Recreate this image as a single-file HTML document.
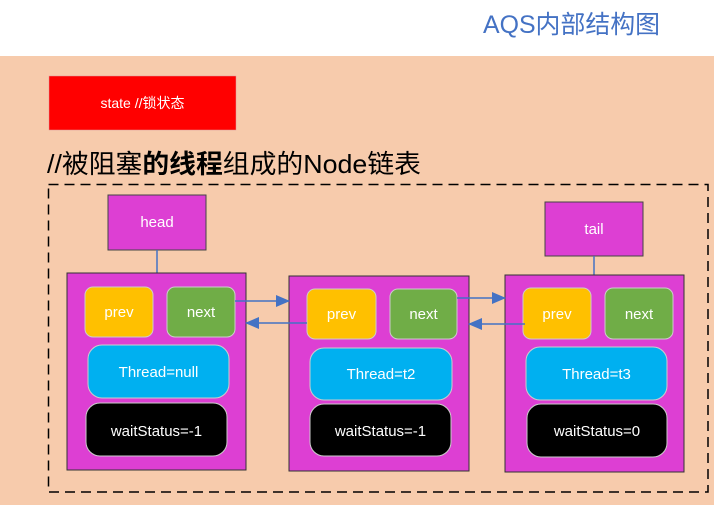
<!DOCTYPE html>
<html><head><meta charset="utf-8"><style>
html,body{margin:0;padding:0;width:716px;height:505px;overflow:hidden;background:#fff}
text{font-family:"Liberation Sans","Noto Sans CJK SC",sans-serif}
</style></head><body>
<svg width="716" height="505" viewBox="0 0 716 505" xmlns="http://www.w3.org/2000/svg">
<defs>
<marker id="ah" markerWidth="14" markerHeight="12" refX="13" refY="6" orient="auto" markerUnits="userSpaceOnUse">
<path d="M0,0 L14,6 L0,12 z" fill="#4472C4"/></marker>
</defs>
<rect x="0" y="56" width="714" height="449" fill="#F7CBAC"/>
<text x="483" y="33" font-size="25" fill="#4472C4" textLength="177" lengthAdjust="spacingAndGlyphs">AQS内部结构图</text>
<rect x="49" y="76" width="187" height="54" fill="#FF0000" stroke="#d99" stroke-width="0.5"/>
<text x="142.5" y="108" font-size="14" fill="#fff" text-anchor="middle">state //锁状态</text>
<text x="47" y="173" font-size="26" fill="#000" textLength="374" lengthAdjust="spacingAndGlyphs">//被阻塞<tspan font-weight="bold">的线程</tspan>组成的Node链表</text>
<rect x="48.5" y="184.5" width="659.5" height="307.5" fill="none" stroke="#000" stroke-width="1.5" stroke-dasharray="10,6"/>

<rect x="108" y="195" width="98" height="55" fill="#DD3FD3" stroke="#444" stroke-width="1"/>
<text x="157" y="227" font-size="15" fill="#fff" text-anchor="middle">head</text>
<line x1="157" y1="250" x2="157" y2="274" stroke="#4472C4" stroke-width="1.5"/>
<rect x="545" y="202" width="98" height="54" fill="#DD3FD3" stroke="#444" stroke-width="1"/>
<text x="594" y="234" font-size="15" fill="#fff" text-anchor="middle">tail</text>
<line x1="594" y1="256" x2="594" y2="276" stroke="#4472C4" stroke-width="1.5"/>

<rect x="67" y="273" width="179" height="197" fill="#DD3FD3" stroke="#333" stroke-width="1"/>
<rect x="85" y="287" width="68" height="50" rx="8" fill="#FFC000" stroke="#ccc"/>
<text x="119" y="317" font-size="15" fill="#fff" text-anchor="middle">prev</text>
<rect x="167" y="287" width="68" height="50" rx="8" fill="#70AD47" stroke="#ccc"/>
<text x="201" y="317" font-size="15" fill="#fff" text-anchor="middle">next</text>
<rect x="88" y="345" width="141" height="53" rx="14" fill="#00B0F0" stroke="#ccc"/>
<text x="158.5" y="377" font-size="15" fill="#fff" text-anchor="middle">Thread=null</text>
<rect x="86" y="403" width="141" height="53" rx="14" fill="#000" stroke="#ccc"/>
<text x="156.5" y="436" font-size="15" fill="#fff" text-anchor="middle">waitStatus=-1</text>

<rect x="289" y="276" width="180" height="195" fill="#DD3FD3" stroke="#333" stroke-width="1"/>
<rect x="307" y="289" width="69" height="50" rx="8" fill="#FFC000" stroke="#ccc"/>
<text x="341.5" y="319" font-size="15" fill="#fff" text-anchor="middle">prev</text>
<rect x="390" y="289" width="67" height="50" rx="8" fill="#70AD47" stroke="#ccc"/>
<text x="423.5" y="319" font-size="15" fill="#fff" text-anchor="middle">next</text>
<rect x="310" y="348" width="142" height="52" rx="14" fill="#00B0F0" stroke="#ccc"/>
<text x="381" y="379" font-size="15" fill="#fff" text-anchor="middle">Thread=t2</text>
<rect x="310" y="404" width="141" height="52" rx="14" fill="#000" stroke="#ccc"/>
<text x="380.5" y="436" font-size="15" fill="#fff" text-anchor="middle">waitStatus=-1</text>

<rect x="505" y="275" width="179" height="197" fill="#DD3FD3" stroke="#333" stroke-width="1"/>
<rect x="523" y="288" width="68" height="51" rx="8" fill="#FFC000" stroke="#ccc"/>
<text x="557" y="319" font-size="15" fill="#fff" text-anchor="middle">prev</text>
<rect x="605" y="288" width="68" height="51" rx="8" fill="#70AD47" stroke="#ccc"/>
<text x="639" y="319" font-size="15" fill="#fff" text-anchor="middle">next</text>
<rect x="526" y="347" width="141" height="53" rx="14" fill="#00B0F0" stroke="#ccc"/>
<text x="596.5" y="379" font-size="15" fill="#fff" text-anchor="middle">Thread=t3</text>
<rect x="527" y="404" width="140" height="53" rx="14" fill="#000" stroke="#ccc"/>
<text x="597" y="436" font-size="15" fill="#fff" text-anchor="middle">waitStatus=0</text>

<line x1="235" y1="301" x2="289" y2="301" stroke="#4472C4" stroke-width="1.5" marker-end="url(#ah)"/>
<line x1="307" y1="323" x2="246" y2="323" stroke="#4472C4" stroke-width="1.5" marker-end="url(#ah)"/>
<line x1="457" y1="298" x2="505" y2="298" stroke="#4472C4" stroke-width="1.5" marker-end="url(#ah)"/>
<line x1="525" y1="324" x2="469" y2="324" stroke="#4472C4" stroke-width="1.5" marker-end="url(#ah)"/>
</svg>
</body></html>
